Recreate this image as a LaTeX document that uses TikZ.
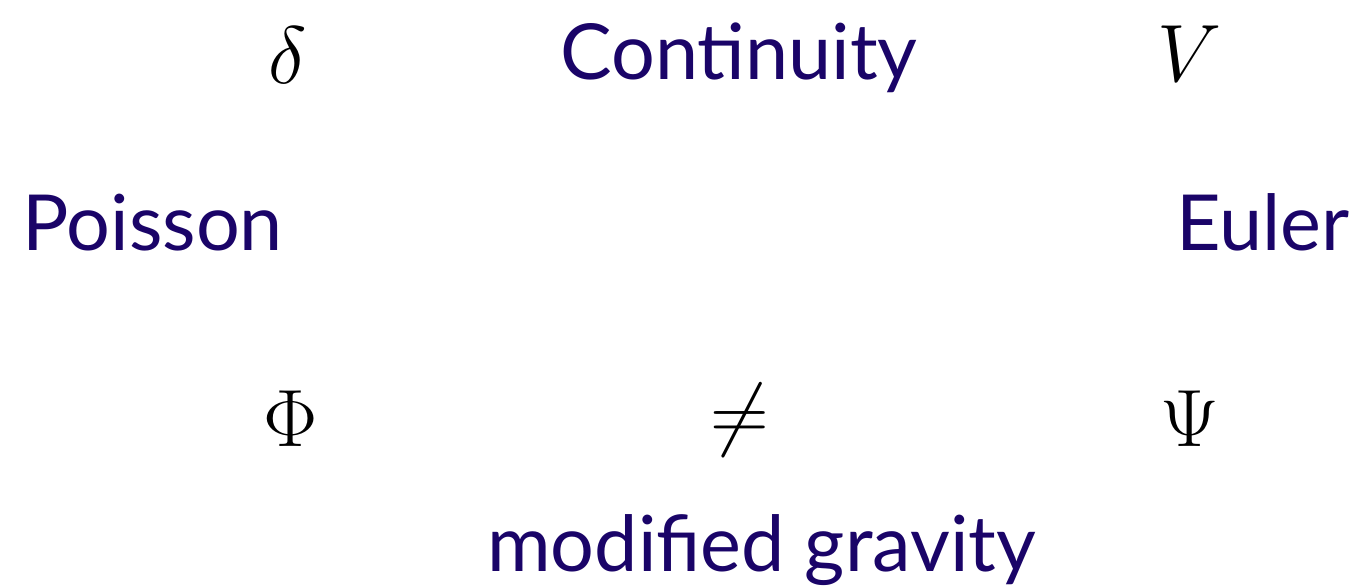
\RequirePackage{fix-cm}
\documentclass[tikz,border=0pt]{standalone}
\usepackage{fontspec}
\setmainfont{Lato}
\definecolor{labelblue}{RGB}{26,4,104}
\tikzset{
  lbl/.style={inner sep=0pt, text=labelblue, font=\fontsize{58}{60}\selectfont},
  sym/.style={inner sep=0pt, font=\fontsize{61}{64}\selectfont}
}
\begin{document}
\begin{tikzpicture}[x=0.75pt,y=-0.75pt]
\useasboundingbox (0,0) rectangle (1357,588);
\node[sym, anchor=base] (delta) at (288,84) {$\delta$};
\node[lbl, anchor=base west] (cont) at (560,80) {Continuity};
\node[sym, anchor=base] (V) at (1190,82) {$V$};
\node[lbl, anchor=base west] (poisson) at (22,251) {Poisson};
\node[lbl, anchor=base east] (euler) at (1350,251) {Euler};
\node[sym, anchor=base] (Phi) at (291,446) {$\Phi$};
\node[sym] (neq) at (740,420) {$\neq$};
\node[sym, anchor=base] (Psi) at (1190,446) {$\Psi$};
\node[lbl, anchor=base west] (mg) at (487,571) {modified gravity};
\end{tikzpicture}
\end{document}
